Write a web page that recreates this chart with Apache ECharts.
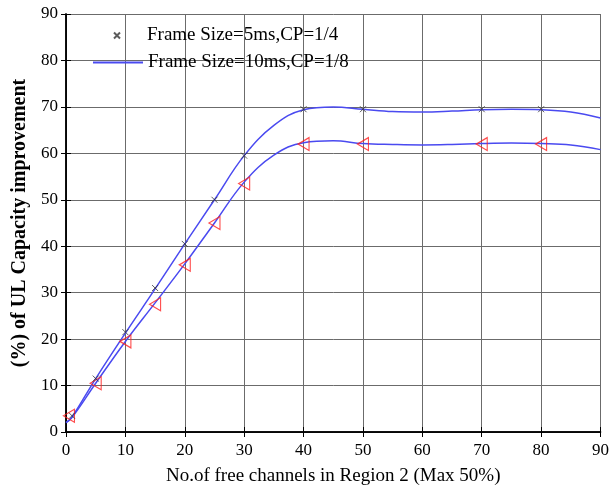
<!DOCTYPE html>
<html><head><meta charset="utf-8">
<script src="https://cdn.jsdelivr.net/npm/echarts@6/dist/echarts.min.js"></script>
<style>html,body{margin:0;padding:0;background:#fff}#c{width:612px;height:491px}</style>
</head><body><div id="c"></div>
<script>
var xTicks = [0,10,20,30,40,50,60,70,80,90];
var yTicks = [0,10,20,30,40,50,60,70,80,90];
var legendNames = ['Frame Size=5ms,CP=1/4','Frame Size=10ms,CP=1/8'];
var xAxisTitle = 'No.of free channels in Region 2 (Max 50%)';
var yAxisTitle = '(%) of UL Capacity improvement';

// smooth curves
var curveUpperX = [0,1,5,10,15,20,25,30,35,40,45,50,55,60,65,70,75,80,85,90];
var curveUpperY = [2,3.2,11.5,21.3,30.8,40.5,50,59.5,66,69.4,70,69.5,69,68.9,69.1,69.4,69.5,69.4,68.9,67.6];
var curveLowerX = [0,1,5,10,15,20,25,30,35,40,45,50,55,60,65,70,75,80,85,90];
var curveLowerY = [2,3.1,10.5,19.5,27.8,36.2,45,53.8,59.6,62.3,62.7,62.1,61.9,61.8,61.9,62.1,62.2,62.1,61.8,60.8];

// markers
var crossX = [1,5,10,15,20,25,30,40,50,70,80];
var crossY = [3.5,11.5,21.5,31,40.5,50,59.5,69.5,69.5,69.5,69.5];
var triX = [0.5,5,10,15,20,25,30,40,50,70,80];
var triY = [3.5,10.5,19.5,27.5,36,45,53.5,62,62,62,62];

function zip(a,b){return a.map(function(v,i){return [v,b[i]];});}
var font = 'Liberation Serif';
var gridColor = '#6b6b6b';
var blue = '#4a4af0';

var chart = echarts.init(document.getElementById('c'));
chart.setOption({
  animation:false,
  backgroundColor:'#fff',
  grid:{left:66,right:11,top:14,bottom:54,show:false},
  legend:[{
    left:108, top:21, itemWidth:50, itemHeight:6,
    textStyle:{fontFamily:font,fontSize:19,color:'#000'},
    data:[{name:legendNames[0]}]
  },{
    left:88, top:48, itemWidth:50, itemHeight:2,
    textStyle:{fontFamily:font,fontSize:19,color:'#000'},
    data:[{name:legendNames[1], icon:'rect'}]
  }],
  xAxis:[{
    type:'value', min:0, max:90, interval:10,
    axisLine:{show:true,lineStyle:{color:'#000',width:1.5}},
    axisTick:{show:true,inside:true,length:5,lineStyle:{color:'#000'}},
    axisLabel:{fontFamily:font,fontSize:17,color:'#000',margin:10},
    splitLine:{show:true,lineStyle:{color:gridColor,width:1}},
    name:xAxisTitle, nameLocation:'middle', nameGap:35,
    nameTextStyle:{fontFamily:font,fontSize:19,color:'#000'}
  },{
    type:'value', min:0, max:90, interval:10, position:'top',
    axisLine:{show:true,lineStyle:{color:'#000',width:1.5}},
    axisTick:{show:true,inside:true,length:5,lineStyle:{color:'#000'}},
    axisLabel:{show:false}, splitLine:{show:false}
  }],
  yAxis:[{
    type:'value', min:0, max:90, interval:10,
    axisLine:{show:true,lineStyle:{color:'#000',width:1.5}},
    axisTick:{show:true,inside:true,length:5,lineStyle:{color:'#000'}},
    axisLabel:{fontFamily:font,fontSize:17,color:'#000',margin:8},
    splitLine:{show:true,lineStyle:{color:gridColor,width:1}},
    name:yAxisTitle, nameLocation:'middle', nameGap:34,
    nameTextStyle:{fontFamily:font,fontSize:20,fontWeight:'bold',color:'#000'}
  },{
    type:'value', min:0, max:90, interval:10, position:'right',
    axisLine:{show:true,lineStyle:{color:'#000',width:1.5}},
    axisTick:{show:true,inside:true,length:5,lineStyle:{color:'#000'}},
    axisLabel:{show:false}, splitLine:{show:false}
  }],
  series:[
    {name:'upper', type:'line', smooth:0.4, symbol:'none', data:zip(curveUpperX,curveUpperY),
     lineStyle:{color:blue,width:1.5}, itemStyle:{color:blue}},
    {name:legendNames[1], type:'line', smooth:0.4, symbol:'none', data:zip(curveLowerX,curveLowerY),
     lineStyle:{color:blue,width:1.5}, itemStyle:{color:blue}},
    {name:legendNames[0], type:'scatter', symbol:'path://M0,0L10,10M10,0L0,10', symbolSize:6,
     data:zip(crossX,crossY), itemStyle:{color:'rgba(0,0,0,0)',borderColor:'#333',borderWidth:1}, z:5},
    {name:'tri', type:'scatter', symbol:'path://M0,5L10,0L10,10Z', symbolSize:[11,13],
     data:zip(triX,triY), itemStyle:{color:'rgba(0,0,0,0)',borderColor:'#ff2020',borderWidth:1.2}, z:4}
  ]
});
</script></body></html>
